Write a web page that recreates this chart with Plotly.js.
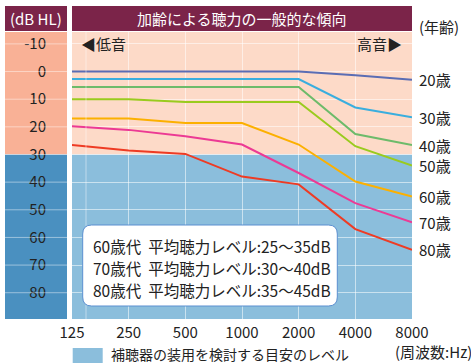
<!DOCTYPE html>
<html>
<head>
<meta charset="utf-8">
<script src="https://cdn.plot.ly/plotly-3.0.1.min.js"></script>
<style>html,body{margin:0;padding:0;background:#fff;}#chart{width:471px;height:364px;}</style>
</head>
<body>
<div id="chart"></div>
<script>
// ---- data ----
const freqs = [125, 250, 500, 1000, 2000, 4000, 8000];
const freqLabels = ['125', '250', '500', '1000', '2000', '4000', '8000'];
const ageLabels = ['20歳', '30歳', '40歳', '50歳', '60歳', '70歳', '80歳'];
const hl20 = [0, 0, 0, 0, 0, 1.3, 3];
const hl30 = [2.7, 2.7, 2.7, 2.7, 2.7, 13, 16.5];
const hl40 = [5.6, 5.6, 5.6, 5.6, 5.6, 22.6, 26.6];
const hl50 = [10, 10, 11, 11, 11, 27, 34];
const hl60 = [17, 17, 18.6, 18.6, 26.4, 39.8, 45.2];
const hl70 = [19.8, 21.1, 23.4, 26.4, 36.7, 47.6, 54.5];
const hl80 = [26.6, 28.6, 29.8, 38, 40.8, 57, 64.5];
const yTicks = [-10, 0, 10, 20, 30, 40, 50, 60, 70, 80];
const yTickLabels = ['-10', '0', '10', '20', '30', '40', '50', '60', '70', '80'];
const threshold = 30;
const boxLines = ['60歳代\u00a0\u00a0平均聴力レベル:25〜35dB', '70歳代\u00a0\u00a0平均聴力レベル:30〜40dB', '80歳代\u00a0\u00a0平均聴力レベル:35〜45dB'];
const titleText = '加齢による聴力の一般的な傾向';
const unitText = '(dB HL)';
const ageHeader = '(年齢)';
const lowText = '◀低音';
const highText = '高音▶';
const freqUnit = '(周波数:Hz)';
const legendText = '補聴器の装用を検討する目安のレベル';

const series = [hl20, hl30, hl40, hl50, hl60, hl70, hl80];
const colors = ['#5a6db4', '#3aaede', '#6dbb6a', '#9acb1e', '#fcb000', '#ec3a94', '#ee3b24'];

const yRange = [89.5, -14.3];
const FONT = '"Noto Sans CJK JP", "Noto Sans", sans-serif';

const traces = series.map((s, i) => ({
  x: freqs, y: s, type: 'scatter', mode: 'lines',
  line: {color: colors[i], width: 2}, name: ageLabels[i],
  hoverinfo: 'x+y+name'
}));

const shapes = [];
// plot backgrounds
shapes.push({type: 'rect', layer: 'below', xref: 'paper', yref: 'y', x0: 0, x1: 1, y0: yRange[1], y1: threshold, fillcolor: '#fddac8', line: {width: 0}});
shapes.push({type: 'rect', layer: 'below', xref: 'paper', yref: 'y', x0: 0, x1: 1, y0: threshold, y1: yRange[0], fillcolor: '#8bbedc', line: {width: 0}});
// left column
const lx0 = (5 - 72) / 340, lx1 = (67 - 72) / 340;
shapes.push({type: 'rect', layer: 'below', xref: 'paper', yref: 'y', x0: lx0, x1: lx1, y0: yRange[1], y1: threshold, fillcolor: '#f9b196', line: {width: 0}});
shapes.push({type: 'rect', layer: 'below', xref: 'paper', yref: 'y', x0: lx0, x1: lx1, y0: threshold, y1: yRange[0], fillcolor: '#4a90c0', line: {width: 0}});
yTicks.forEach(v => {
  shapes.push({type: 'line', layer: 'above', xref: 'paper', yref: 'y', x0: lx0, x1: lx1, y0: v, y1: v, line: {color: 'rgba(255,255,255,0.45)', width: 1}});
});
// extra vertical grid line near the left edge
shapes.push({type: 'line', layer: 'above', xref: 'paper', yref: 'paper', x0: 14 / 340, x1: 14 / 340, y0: 0, y1: 1, line: {color: 'rgba(255,255,255,0.45)', width: 1}});
// title banners
const by0 = (319 - 31) / 287, by1 = (319 - 6) / 287;
shapes.push({type: 'rect', xref: 'paper', yref: 'paper', x0: 0, x1: 1, y0: by0, y1: by1, fillcolor: '#7b2449', line: {width: 0}});
shapes.push({type: 'rect', xref: 'paper', yref: 'paper', x0: lx0, x1: lx1, y0: by0, y1: by1, fillcolor: '#7b2449', line: {width: 0}});
// rounded info box
(function () {
  const x0 = (82.7 - 72) / 340, x1 = (337.3 - 72) / 340;
  const y0 = (319 - 306) / 287, y1 = (319 - 225) / 287;
  const rx = 9 / 340, ry = 9 / 287;
  const p = `M ${x0 + rx},${y0} L ${x1 - rx},${y0} Q ${x1},${y0} ${x1},${y0 + ry} L ${x1},${y1 - ry} Q ${x1},${y1} ${x1 - rx},${y1} L ${x0 + rx},${y1} Q ${x0},${y1} ${x0},${y1 - ry} L ${x0},${y0 + ry} Q ${x0},${y0} ${x0 + rx},${y0} Z`;
  shapes.push({type: 'path', xref: 'paper', yref: 'paper', path: p, fillcolor: '#ffffff', line: {color: '#5b8fd0', width: 1}});
})();
// bottom legend swatch
shapes.push({type: 'rect', xref: 'paper', yref: 'paper', x0: (72.7 - 72) / 340, x1: (102.7 - 72) / 340, y0: (319 - 363) / 287, y1: (319 - 348) / 287, fillcolor: '#8bbedc', line: {width: 0}});

const annotations = [];
const py = p => (319 - p) / 287;
const px = p => (p - 72) / 340;
const txt = (text, x, y, opts) => Object.assign({text, x, y, xref: 'paper', yref: 'paper', yanchor: 'middle', xanchor: 'center', showarrow: false, font: {family: FONT, size: 15, color: '#222'}}, opts || {});
annotations.push(txt(titleText, 0.5, py(18.5), {font: {family: FONT, size: 15, color: '#ffffff'}}));
annotations.push(txt(unitText, px(36), py(18.5), {font: {family: FONT, size: 15, color: '#ffffff'}}));
annotations.push(txt(ageHeader, px(417), py(26.5), {xanchor: 'left'}));
annotations.push(txt(lowText, px(79), py(43.5), {xanchor: 'left'}));
annotations.push(txt(highText, px(404), py(43.5), {xanchor: 'right'}));
annotations.push(txt(freqUnit, px(393), py(351), {xanchor: 'left'}));
annotations.push(txt(legendText, px(109), py(354), {xanchor: 'left', font: {family: FONT, size: 14, color: '#222'}}));
series.forEach((s, i) => {
  annotations.push({text: ageLabels[i], xref: 'paper', yref: 'y', x: px(417), y: s[s.length - 1], xanchor: 'left', yanchor: 'middle', showarrow: false, font: {family: FONT, size: 15, color: '#222'}});
});
const boxY = [245.7, 268.3, 290];
boxLines.forEach((t, i) => {
  annotations.push(txt(t, px(91), py(boxY[i]), {xanchor: 'left', font: {family: FONT, size: 15.5, color: '#222'}}));
});

const layout = {
  width: 471, height: 364,
  margin: {l: 72, r: 59, t: 32, b: 45},
  paper_bgcolor: '#ffffff', plot_bgcolor: 'rgba(0,0,0,0)',
  showlegend: false,
  font: {family: FONT, color: '#222'},
  xaxis: {
    type: 'log', range: [Math.log10(125), Math.log10(8000)],
    tickvals: freqs, ticktext: freqLabels, ticks: '',
    showgrid: true, gridcolor: 'rgba(255,255,255,0.55)', gridwidth: 1,
    zeroline: false, showline: false, ticklabelstandoff: 3,
    tickfont: {family: FONT, size: 15, color: '#222'}
  },
  yaxis: {
    range: yRange, tickvals: yTicks, ticktext: yTickLabels, ticks: '',
    showgrid: true, gridcolor: 'rgba(255,255,255,0.55)', gridwidth: 1,
    zeroline: false, showline: false, ticklabelstandoff: 25,
    tickfont: {family: FONT, size: 15, color: '#222'}
  },
  shapes, annotations
};

Plotly.newPlot('chart', traces, layout, {displayModeBar: false, staticPlot: true});
</script>
</body>
</html>
